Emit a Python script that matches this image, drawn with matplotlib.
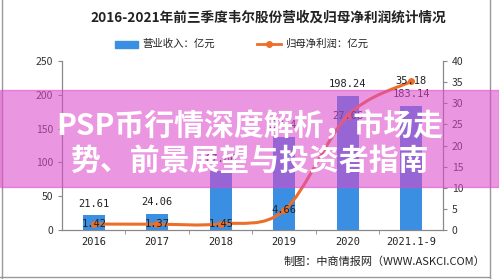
import matplotlib
matplotlib.use("Agg")
import matplotlib.pyplot as plt
from matplotlib.path import Path
from matplotlib.patches import PathPatch, Rectangle
from matplotlib.lines import Line2D
import numpy as np

plt.rcParams['font.family'] = ['Noto Sans CJK SC', 'DejaVu Sans']

# Dati
anni = ["2016", "2017", "2018", "2019", "2020", "2021.1-9"]
ricavi = [21.61, 24.06, 87.66, 137.44, 198.24, 183.14]
utile_netto = [1.42, 1.37, 1.45, 4.66, 27.06, 35.18]
etichette_ricavi = ["21.61", "24.06", "87.66", "137.44", "198.24", "183.14"]
etichette_utile = ["1.42", "1.37", "1.45", "4.66", "27.06", "35.18"]

titolo = "2016-2021年前三季度韦尔股份营收及归母净利润统计情况"
legenda_barre = "营业收入：亿元"
legenda_linea = "归母净利润：亿元"
fonte = "制图：中商情报网（WWW.ASKCI.COM）"
titolo_sovrapposto = ["PSP币行情深度解析，市场走", "势、前景展望与投资者指南"]

blu = "#3b8fe2"
arancione = "#eb6f2a"
mono = ["DejaVu Sans Mono", "DejaVu Sans"]

fig = plt.figure(figsize=(4.99, 2.79), dpi=100)
ax = fig.add_axes([0.1242, 0.1756, 0.7635, 0.6057])
ax2 = ax.twinx()

x = np.arange(len(anni))
ax.bar(x, ricavi, width=0.35, color=blu, zorder=2)
for xi, v, t in zip(x, ricavi, etichette_ricavi):
    ax.text(xi, v + 10, t, ha="center", va="bottom", fontsize=7.5, color="#222222", family=mono)

ax.set_xlim(-0.5, len(anni) - 0.5)
ax.set_ylim(0, 250)
ax.set_yticks(range(0, 251, 50))
ax2.set_ylim(0, 40)
ax2.set_yticks(range(0, 41, 5))

# Curva smussata (Catmull-Rom -> Bezier) solo per il disegno
pts = np.column_stack([x, utile_netto])
verts = [tuple(pts[0])]
codes = [Path.MOVETO]
for i in range(len(pts) - 1):
    p0 = pts[max(i - 1, 0)]
    p1 = pts[i]
    p2 = pts[i + 1]
    p3 = pts[min(i + 2, len(pts) - 1)]
    c1 = p1 + (p2 - p0) / 6.0
    c2 = p2 - (p3 - p1) / 6.0
    verts += [tuple(c1), tuple(c2), tuple(p2)]
    codes += [Path.CURVE4] * 3
ax2.add_patch(PathPatch(Path(verts, codes), fill=False, edgecolor=arancione, lw=2.2, zorder=3))
ax2.plot(x, utile_netto, "o", color=arancione, ms=4, zorder=4)
for xi, v, t in zip(x, utile_netto, etichette_utile):
    ax2.text(xi, v, t, ha="center", va="center", fontsize=7.5, color="#222222", zorder=5, family=mono)

# Assi
for a in (ax, ax2):
    a.spines["top"].set_visible(False)
    a.spines["left"].set_color("#888888")
    a.spines["right"].set_color("#888888")
    a.spines["bottom"].set_color("#888888")
ax.tick_params(axis="y", labelsize=7.5, colors="#333333", length=3, color="#888888")
ax2.tick_params(axis="y", labelsize=7.5, colors="#333333", length=3, color="#888888")
ax.set_xticks(x)
ax.set_xticklabels(anni, fontsize=7.5, color="#222222", family=mono)
ax.tick_params(axis="x", length=0, pad=5)
ax.set_xticks(np.arange(0.5, len(anni) - 0.5, 1), minor=True)
ax.tick_params(axis="x", which="minor", length=3, color="#888888", direction="out")

# Titolo e legenda
fig.text(0.537, 0.937, titolo, ha="center", va="center", fontsize=9.8, fontweight="bold", color="#222222")
fig.add_artist(Rectangle((115 / 499, 1 - 48 / 279), 23 / 499, 7 / 279, color=blu, transform=fig.transFigure))
fig.text(142 / 499, 1 - 44 / 279, legenda_barre, ha="left", va="center", fontsize=7.5, color="#222222")
fig.add_artist(Line2D([257 / 499, 281 / 499], [1 - 44 / 279] * 2, color=arancione, lw=2, transform=fig.transFigure))
fig.add_artist(Line2D([269 / 499], [1 - 44 / 279], marker="o", ms=4, color=arancione, transform=fig.transFigure))
fig.text(285 / 499, 1 - 44 / 279, legenda_linea, ha="left", va="center", fontsize=7.5, color="#222222")
fig.text(485 / 499, 1 - 262 / 279, fonte, ha="right", va="center", fontsize=8, color="#222222")

# Bordo
for xs, ys in [([2 / 499, 2 / 499], [0, 1]), ([490 / 499, 490 / 499], [0, 1]), ([0, 490 / 499], [2 / 279, 2 / 279])]:
    fig.add_artist(Line2D(xs, ys, color="#999999", lw=1, transform=fig.transFigure))

# Banda rosa sovrapposta con testo
fig.add_artist(Rectangle((0, 1 - 187 / 279), 1, 97 / 279, color="#dd49cb", alpha=0.575,
                         transform=fig.transFigure, zorder=10))
fig.text(250 / 499, 1 - 127 / 279, titolo_sovrapposto[0], ha="center", va="center", fontsize=21.5,
         fontweight="bold", color="white", zorder=11)
fig.text(250 / 499, 1 - 161 / 279, titolo_sovrapposto[1], ha="center", va="center", fontsize=21.5,
         fontweight="bold", color="white", zorder=11)

fig.savefig("out.png", dpi=100)
